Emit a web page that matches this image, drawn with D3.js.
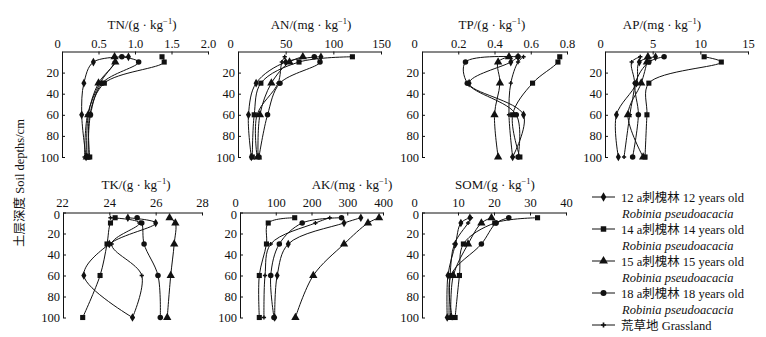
<!DOCTYPE html>
<html>
<head>
<meta charset="utf-8">
<script src="https://cdn.jsdelivr.net/npm/d3@7"></script>
<style>
  body { margin: 0; background: #fff; }
  svg { display: block; }
</style>
</head>
<body>
<div id="container"></div>
<script>
let w = 766;
let h = 337;

// soil depth of each sample (cm)
let depths = [5, 10, 30, 60, 100];

// series order: 12a, 14a, 15a, 18a, grassland
let seriesNames = ['12 a刺槐林 12 years old', '14 a刺槐林 14 years old', '15 a刺槐林 15 years old', '18 a刺槐林 18 years old', '荒草地 Grassland'];
let seriesSub = ['Robinia pseudoacacia', 'Robinia pseudoacacia', 'Robinia pseudoacacia', 'Robinia pseudoacacia', ''];

let tnValues = [
  [0.91, 0.43, 0.30, 0.27, 0.33],
  [1.37, 1.40, 0.58, 0.38, 0.38],
  [0.72, 0.73, 0.50, 0.36, 0.34],
  [0.82, 1.05, 0.55, 0.39, 0.36],
  [0.72, 0.72, 0.52, 0.35, 0.31]
];
let anValues = [
  [87, 50, 19, 11, 14],
  [120, 64, 24, 17, 15],
  [68, 54, 35, 23, 21],
  [80, 86, 44, 31, 22],
  [49, 46, 42, 20, 20]
];
let tpValues = [
  [0.53, 0.49, 0.26, 0.56, 0.50],
  [0.76, 0.75, 0.61, 0.50, 0.54],
  [0.48, 0.42, 0.43, 0.40, 0.42],
  [0.53, 0.24, 0.25, 0.52, 0.53],
  [0.56, 0.53, 0.49, 0.48, 0.50]
];
let apValues = [
  [5.3, 3.6, 3.3, 1.2, 1.4],
  [10.4, 12.2, 4.6, 4.4, 4.2],
  [4.5, 4.4, 3.8, 2.4, 4.0],
  [6.2, 4.6, 3.2, 3.5, 2.9],
  [3.7, 2.8, 3.1, 2.6, 2.0]
];
let tkValues = [
  [24.8, 26.0, 24.0, 22.9, 25.0],
  [24.25, 24.05, 23.9, 23.6, 22.85],
  [26.6, 26.85, 26.8, 26.65, 26.5],
  [25.2, 25.4, 25.5, 26.1, 26.2],
  [24.05, 25.3, 24.1, 25.4, 25.0]
];
let akValues = [
  [338, 291, 135, 104, 97],
  [153, 79, 74, 54, 54],
  [389, 358, 291, 205, 155],
  [284, 174, 110, 86, 95],
  [251, 211, 86, 70, 67]
];
let somValues = [
  [13.3, 10.8, 9.3, 7.2, 7.0],
  [32.1, 20.2, 11.5, 10.4, 9.2],
  [19.3, 16.5, 12.8, 8.7, 8.0],
  [24.1, 20.6, 16.5, 8.0, 8.4],
  [13.6, 12.8, 9.0, 7.8, 7.5]
];

let tnTicks = ['0', '0.5', '1.0', '1.5', '2.0'];
let anTicks = ['0', '50', '100', '150'];
let tpTicks = ['0', '0.2', '0.4', '0.6', '0.8'];
let apTicks = ['0', '5', '10', '15'];
let tkTicks = ['22', '24', '26', '28'];
let akTicks = ['0', '100', '200', '300', '400'];
let somTicks = ['0', '10', '20', '30', '40'];
let depthTicks = [0, 20, 40, 60, 80, 100];

let panels = [
  {name: 'TN', unit: 'g', values: tnValues, ticks: tnTicks, row: 0, x0: 62, x1: 208, tx: 142, shift: -5},
  {name: 'AN', unit: 'mg', values: anValues, ticks: anTicks, row: 0, x0: 238, x1: 381, tx: 311, shift: -8},
  {name: 'TP', unit: 'g', values: tpValues, ticks: tpTicks, row: 0, x0: 422, x1: 567, tx: 492, shift: -8},
  {name: 'AP', unit: 'mg', values: apValues, ticks: apTicks, row: 0, x0: 605, x1: 748, tx: 662, shift: -5},
  {name: 'TK', unit: 'g', values: tkValues, ticks: tkTicks, row: 1, x0: 63, x1: 202, tx: 136, shift: -1},
  {name: 'AK', unit: 'mg', values: akValues, ticks: akTicks, row: 1, x0: 240, x1: 383, tx: 352, shift: -5},
  {name: 'SOM', unit: 'g', values: somValues, ticks: somTicks, row: 1, x0: 422, x1: 566, tx: 495, shift: -8}
];

let rows = [
  {top: 51.5, bottom: 157, titleY: 29, pad: 4},
  {top: 212.5, bottom: 317.5, titleY: 189, pad: 6}
];

let serif = '"Liberation Serif", "Times New Roman", "Noto Sans CJK SC", serif';
let symbols = [d3.symbolDiamond, d3.symbolSquare, d3.symbolTriangle, d3.symbolCircle, d3.symbolCross];
let symbolSizes = [22, 26, 30, 24, 10];

let viz = d3.select('#container')
  .append('svg')
    .attr('width', w)
    .attr('height', h)
    .style('background-color', 'white');

function drawTitle(g, x, y, name, unit){
  let t = g.append('text')
    .attr('x', x).attr('y', y)
    .attr('text-anchor', 'middle')
    .attr('font-family', serif)
    .attr('font-size', 13)
    .attr('fill', '#111');
  t.append('tspan').text(name + '/(' + unit + ' \u00b7 kg');
  t.append('tspan').attr('dy', -5).attr('font-size', 8.5).text('\u22121');
  t.append('tspan').attr('dy', 5).text(')');
}

panels.forEach(function(p){
  let row = rows[p.row];
  let tickVals = p.ticks.map(Number);
  let xScale = d3.scaleLinear()
    .domain([tickVals[0], tickVals[tickVals.length - 1]])
    .range([p.x0, p.x1]);
  let yScale = d3.scaleLinear().domain([0, 100]).range([row.top, row.bottom]);

  let g = viz.append('g');

  let xAxis = d3.axisTop(xScale)
    .tickValues(tickVals)
    .tickFormat(function(d, i){ return p.ticks[i]; })
    .tickSizeInner(-3)
    .tickSizeOuter(0)
    .tickPadding(row.pad);
  let xAxisGroup = g.append('g')
    .attr('transform', 'translate(0,' + row.top + ')')
    .call(xAxis);

  let yTicks = p.row == 0 ? depthTicks.slice(1) : depthTicks;
  let yAxis = d3.axisLeft(yScale)
    .tickValues(yTicks)
    .tickSizeInner(-3)
    .tickSizeOuter(0)
    .tickPadding(3);
  let yAxisGroup = g.append('g')
    .attr('transform', 'translate(' + p.x0 + ',0)')
    .call(yAxis);

  [xAxisGroup, yAxisGroup].forEach(function(ag){
    ag.attr('font-family', serif).attr('font-size', 12.5);
    ag.selectAll('text').attr('fill', '#111');
    ag.selectAll('line, path').attr('stroke', '#111').attr('stroke-width', 1);
  });
  xAxisGroup.selectAll('.tick text').filter(function(d, i){ return i == 0; }).attr('dx', p.shift);
  // the 0 depth label sits a bit low, under the first x label
  yAxisGroup.selectAll('.tick text').filter(function(d){ return d == 0; }).attr('dy', '0.5em');

  drawTitle(g, p.tx, row.titleY, p.name, p.unit);

  let line = d3.line()
    .x(function(d){ return xScale(d[0]); })
    .y(function(d){ return yScale(d[1]); })
    .curve(d3.curveCatmullRom.alpha(0.5));

  p.values.forEach(function(vals, si){
    let pts = vals.map(function(v, i){ return [v, depths[i]]; });
    g.append('path')
      .attr('d', line(pts))
      .attr('fill', 'none')
      .attr('stroke', '#111')
      .attr('stroke-width', 1);
    g.selectAll('.m' + si)
      .data(pts)
      .enter()
      .append('path')
        .attr('d', d3.symbol().type(symbols[si]).size(symbolSizes[si]))
        .attr('transform', function(d){ return 'translate(' + xScale(d[0]) + ',' + yScale(d[1]) + ')'; })
        .attr('fill', '#111');
  });
});

// y axis title
viz.append('text')
  .attr('transform', 'translate(24,183) rotate(-90)')
  .attr('text-anchor', 'middle')
  .attr('font-family', serif)
  .attr('font-size', 12.5)
  .attr('fill', '#111')
  .text('土层深度 Soil depths/cm');

// legend
let legend = viz.append('g').attr('transform', 'translate(592,197)');
seriesNames.forEach(function(name, i){
  let y = i * 32;
  legend.append('line')
    .attr('x1', 0).attr('x2', 23).attr('y1', y).attr('y2', y)
    .attr('stroke', '#111').attr('stroke-width', 1);
  legend.append('path')
    .attr('d', d3.symbol().type(symbols[i]).size(symbolSizes[i] + 4))
    .attr('transform', 'translate(11.5,' + y + ')')
    .attr('fill', '#111');
  legend.append('text')
    .attr('x', 29).attr('y', y + 4.5)
    .attr('font-family', serif)
    .attr('font-size', 12.5)
    .attr('fill', '#111')
    .text(name);
  if(seriesSub[i]){
    legend.append('text')
      .attr('x', 30).attr('y', y + 20.5)
      .attr('font-family', serif)
      .attr('font-style', 'italic')
      .attr('font-size', 12.5)
      .attr('fill', '#111')
      .text(seriesSub[i]);
  }
});
</script>
</body>
</html>
